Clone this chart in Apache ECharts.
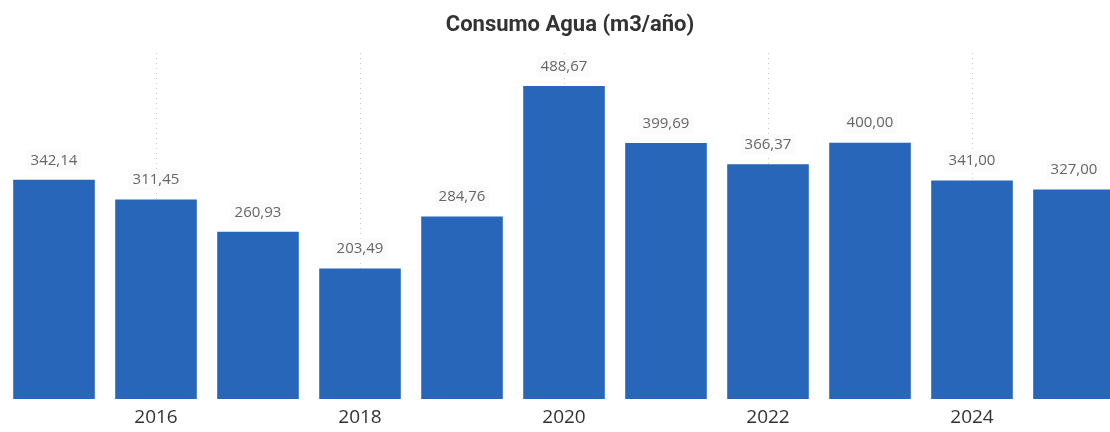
<!DOCTYPE html>
<html>
<head>
<meta charset="utf-8">
<script src="https://cdn.jsdelivr.net/npm/echarts@6/dist/echarts.min.js"></script>
<style>
  html, body { margin: 0; padding: 0; background: #fff; }
  #chart { width: 1110px; height: 432px; }
</style>
</head>
<body>
<div id="chart"></div>
<script>
const years = ["2015", "2016", "2017", "2018", "2019", "2020", "2021", "2022", "2023", "2024", "2025"];
const consumo = [342.14, 311.45, 260.93, 203.49, 284.76, 488.67, 399.69, 366.37, 400.0, 341.0, 327.0];
const gridYears = ["2016", "2018", "2020", "2022", "2024"];

const chart = echarts.init(document.getElementById("chart"));

// solo se etiquetan los años pares
const everyOther = (i) => i % 2 === 1;

const option = {
  animation: false,
  title: {
    text: "Consumo Agua (m3/año)",
    left: 565,
    top: 9,
    textAlign: "center",
    textStyle: {
      fontFamily: "Roboto",
      fontWeight: "bold",
      fontSize: 22,
      color: "#333",
    },
  },
  grid: {
    left: 3,
    top: 53,
    width: 1122,
    height: 346,
    containLabel: false,
    outerBoundsMode: "none",
  },
  xAxis: {
    type: "category",
    data: years,
    axisLine: { show: false },
    axisTick: { show: false },
    axisLabel: {
      interval: everyOther,
      color: "#333",
      fontFamily: "Open Sans",
      fontSize: 19,
      margin: 9,
    },
    splitLine: { show: false },
  },
  yAxis: {
    type: "value",
    min: 0,
    max: 540,
    show: false,
    splitLine: { show: false },
  },
  series: [
    {
      // serie vacia solo para las lineas punteadas verticales
      type: "line",
      data: [],
      z: 1,
      silent: true,
      markLine: {
        z: 1,
        symbol: "none",
        silent: true,
        label: { show: false },
        lineStyle: { color: "#c8c8c8", type: [1, 4], width: 1 },
        data: gridYears.map((y) => ({ xAxis: y })),
      },
    },
    {
      type: "bar",
      data: consumo,
      z: 3,
      barCategoryGap: "20%",
      itemStyle: { color: "#2766b9" },
      label: {
        show: true,
        position: "top",
        distance: 9,
        formatter: (p) => p.value.toFixed(2).replace(".", ","),
        color: "#666",
        fontFamily: "Open Sans",
        fontSize: 15,
        backgroundColor: "#fbfbfb",
        padding: [3, 4],
      },
    },
  ],
};

chart.setOption(option);
</script>
</body>
</html>
